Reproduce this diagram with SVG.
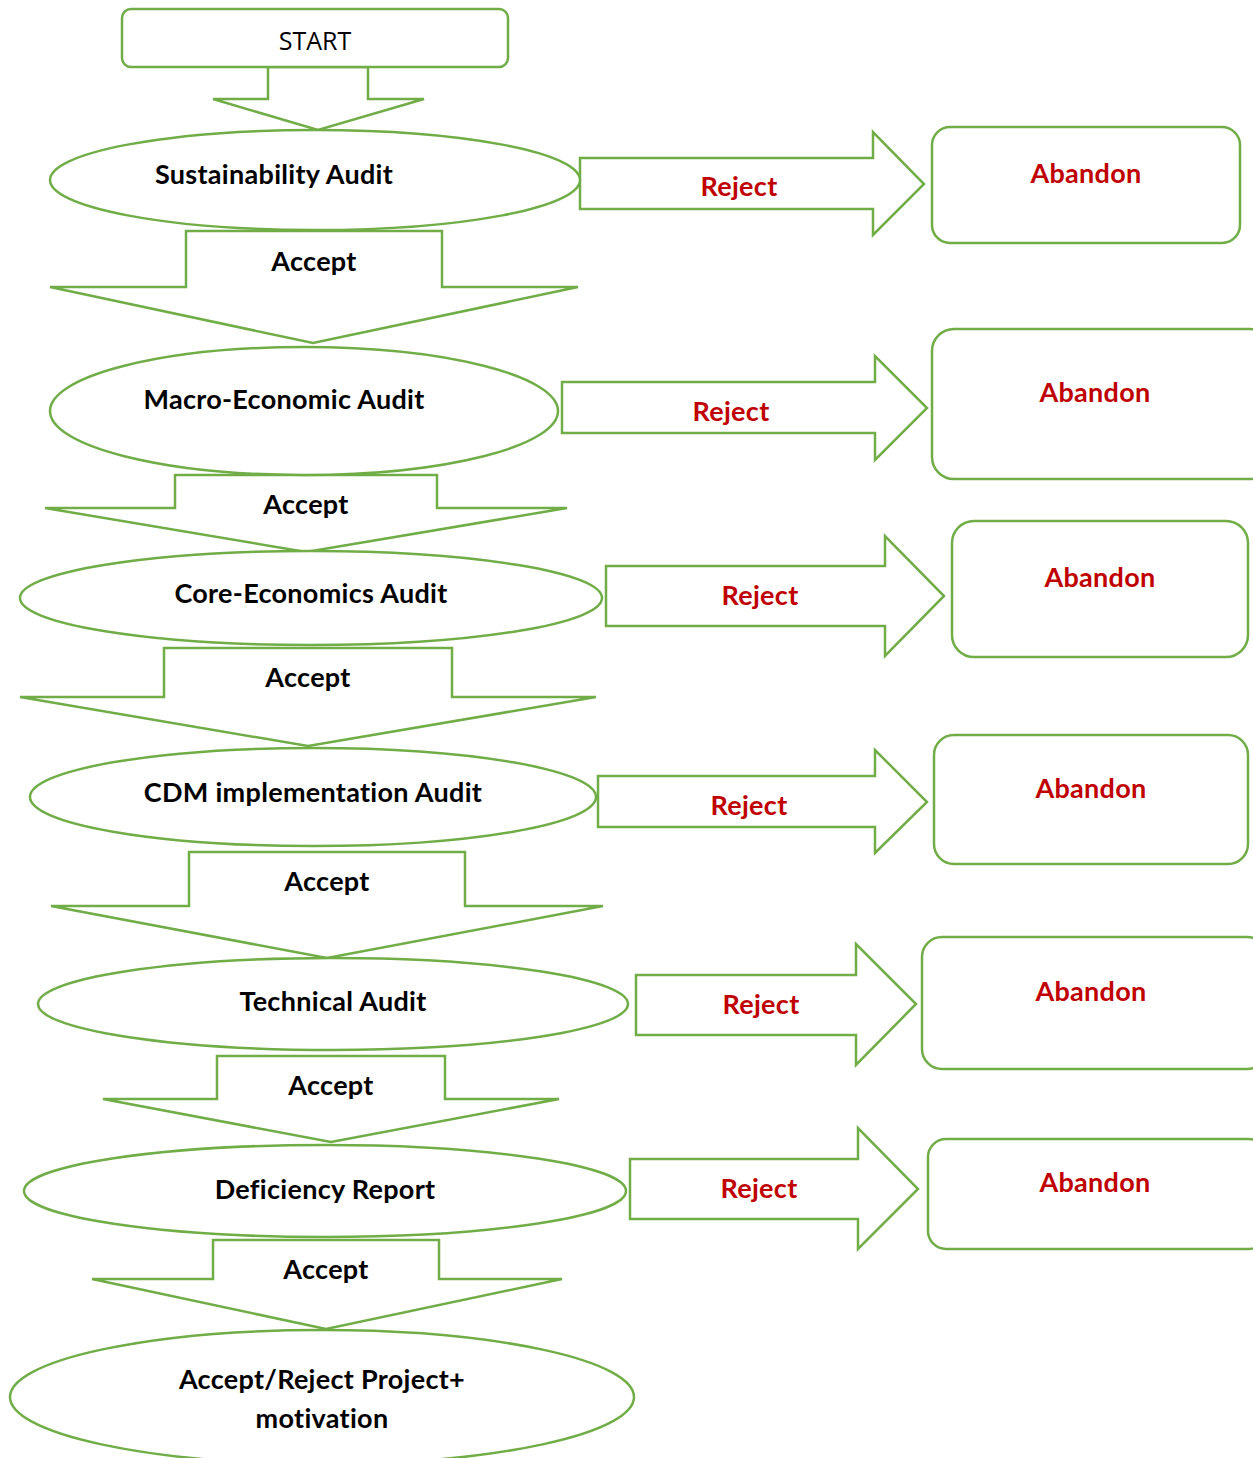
<svg xmlns="http://www.w3.org/2000/svg" width="1253" height="1458" viewBox="0 0 1253 1458">
<style>
.sh{fill:#fff;stroke:#70AD47;stroke-width:2.5;stroke-linejoin:miter}
.t{font-family:Lato,"Liberation Sans",sans-serif;font-weight:bold;font-size:27px;letter-spacing:0.3px;fill:#000;text-anchor:middle}
.r{fill:#C00000}
.s{font-family:"Open Sans","Liberation Sans",sans-serif;font-weight:normal;font-size:25px;fill:#000;text-anchor:middle}
</style>
<rect width="1253" height="1458" fill="#fff"/>
<g id="connectors">
<polygon class="sh" points="268,67 368,67 368,99 424,99 318,130 213,99 268,99"/>
<polygon class="sh" points="186,231 442,231 442,287 578,287 313,343 50,287 186,287"/>
<polygon class="sh" points="175,475 437,475 437,508 567,508 306,552 45,508 175,508"/>
<polygon class="sh" points="164,648 452,648 452,697 596,697 308,746 20,697 164,697"/>
<polygon class="sh" points="189,852 465,852 465,906 603,906 327,958 51,906 189,906"/>
<polygon class="sh" points="217,1056 445,1056 445,1099 559,1099 331,1142 103,1099 217,1099"/>
<polygon class="sh" points="213,1240 439,1240 439,1279 562,1279 326,1329 92,1279 213,1279"/>
<polygon class="sh" points="580,158 873,158 873,132 924,184 873,235 873,209 580,209"/>
<polygon class="sh" points="562,382 875,382 875,356 927,408 875,460 875,433 562,433"/>
<polygon class="sh" points="606,566 885,566 885,536 944,596 885,656 885,626 606,626"/>
<polygon class="sh" points="598,776 875,776 875,750 927,802 875,853 875,827 598,827"/>
<polygon class="sh" points="636,975 856,975 856,944 916,1004 856,1065 856,1035 636,1035"/>
<polygon class="sh" points="630,1159 858,1159 858,1128 918,1189 858,1249 858,1219 630,1219"/>
<text class="t" x="314" y="271">Accept</text>
<text class="t" x="306" y="514">Accept</text>
<text class="t" x="308" y="687">Accept</text>
<text class="t" x="327" y="891">Accept</text>
<text class="t" x="331" y="1095">Accept</text>
<text class="t" x="326" y="1279">Accept</text>
<text class="t r" x="739" y="196">Reject</text>
<text class="t r" x="731" y="421">Reject</text>
<text class="t r" x="760" y="605">Reject</text>
<text class="t r" x="749" y="815">Reject</text>
<text class="t r" x="761" y="1014">Reject</text>
<text class="t r" x="759" y="1198">Reject</text>
</g>
<g id="start"><rect class="sh" x="122" y="9" width="386" height="58" rx="9"/><text class="s" x="315" y="50">START</text></g>
<g id="sustainability"><ellipse class="sh" cx="315" cy="180" rx="265" ry="50"/><text class="t" x="274" y="184">Sustainability Audit</text></g>
<g id="macro"><ellipse class="sh" cx="304" cy="411" rx="254" ry="64"/><text class="t" x="284" y="409">Macro-Economic Audit</text></g>
<g id="core"><ellipse class="sh" cx="311" cy="598" rx="291" ry="47"/><text class="t" x="311" y="603">Core-Economics Audit</text></g>
<g id="cdm"><ellipse class="sh" cx="313" cy="797" rx="283" ry="49"/><text class="t" x="313" y="802">CDM implementation Audit</text></g>
<g id="technical"><ellipse class="sh" cx="333" cy="1004" rx="295" ry="46"/><text class="t" x="333" y="1011">Technical Audit</text></g>
<g id="deficiency"><ellipse class="sh" cx="325" cy="1191" rx="301" ry="46"/><text class="t" x="325" y="1199">Deficiency Report</text></g>
<g id="final"><ellipse class="sh" cx="322" cy="1397" rx="312" ry="67"/><text class="t" x="322" y="1389">Accept/Reject Project+</text><text class="t" x="322" y="1428">motivation</text></g>
<g id="abandon1"><rect class="sh" x="932" y="127" width="308" height="116" rx="18"/><text class="t r" x="1086" y="183">Abandon</text></g>
<g id="abandon2"><rect class="sh" x="932" y="329" width="340" height="150" rx="22"/><text class="t r" x="1095" y="402">Abandon</text></g>
<g id="abandon3"><rect class="sh" x="952" y="521" width="296" height="136" rx="22"/><text class="t r" x="1100" y="587">Abandon</text></g>
<g id="abandon4"><rect class="sh" x="934" y="735" width="314" height="129" rx="20"/><text class="t r" x="1091" y="798">Abandon</text></g>
<g id="abandon5"><rect class="sh" x="922" y="937" width="345" height="132" rx="20"/><text class="t r" x="1091" y="1001">Abandon</text></g>
<g id="abandon6"><rect class="sh" x="928" y="1139" width="339" height="110" rx="18"/><text class="t r" x="1095" y="1192">Abandon</text></g>
</svg>
